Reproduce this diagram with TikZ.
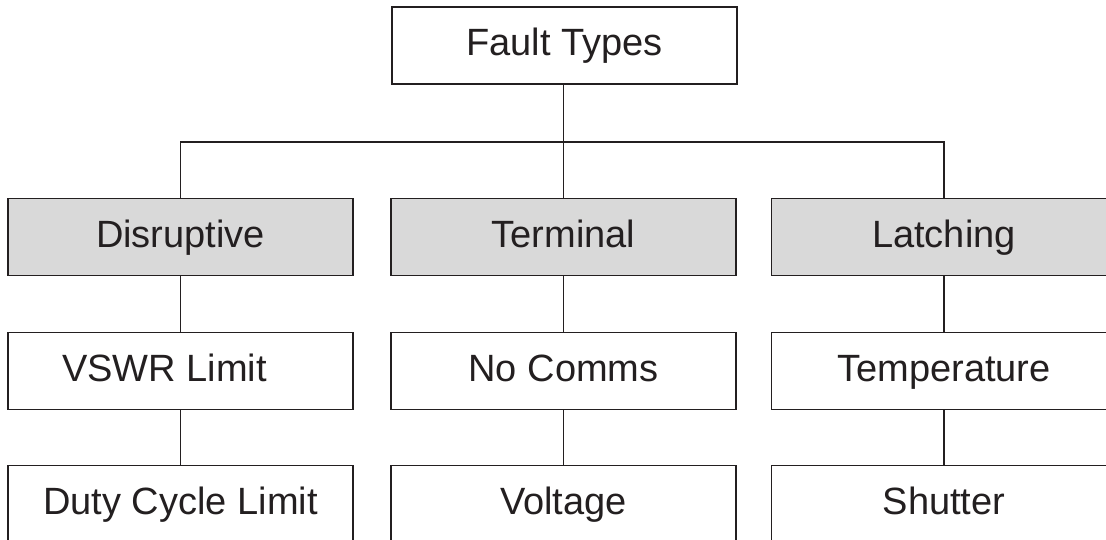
\documentclass[tikz,border=0pt]{standalone}
\usepackage{fontspec}
\setmainfont{Liberation Sans}
\definecolor{ink}{HTML}{231F20}
\definecolor{boxgray}{HTML}{D9D9D9}
\begin{document}
\begin{tikzpicture}[x=1pt,y=-1pt,
  box/.style={draw=ink, line width=1.6pt, fill=white, minimum width=345pt, minimum height=77pt,
    inner sep=0pt, text height=27pt, text depth=6pt, text=ink, font=\fontsize{38}{46}\selectfont},
  grey/.style={box, fill=boxgray},
  link/.style={draw=ink, line width=1.6pt}]
\clip (0,0) rectangle (1106,540);
\fill[white] (0,0) rectangle (1106,540);
\node[box] (ft) at (564.5,45.5) {Fault Types};
\node[grey] (dis) at (180.5,237) {Disruptive};
\node[grey] (ter) at (563.5,237) {Terminal};
\node[grey] (lat) at (944,237) {Latching};
\node[box] (vswr) at (180.5,371) {\hspace*{-32pt}VSWR Limit};
\node[box] (nocom) at (563.5,371) {No Comms};
\node[box] (temp) at (944,371) {Temperature};
\node[box] (duty) at (180.5,504) {Duty Cycle Limit};
\node[box] (volt) at (563.5,504) {Voltage};
\node[box] (shut) at (944,504) {Shutter};
\coordinate (bus) at (563.5,142);
\path[link] (ter.north) -- (ter.north |- ft.south);
\path[link] (dis.north) |- (bus) -| (lat.north);
\path[link] (dis) -- (vswr) (vswr) -- (duty);
\path[link] (ter) -- (nocom) (nocom) -- (volt);
\path[link] (lat) -- (temp) (temp) -- (shut);
\end{tikzpicture}
\end{document}
